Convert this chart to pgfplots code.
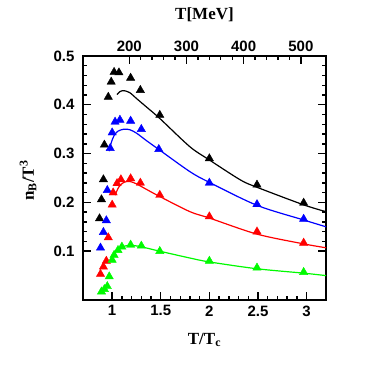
\documentclass[border=0pt]{standalone}
\usepackage{pgfplots}
\pgfplotsset{compat=1.18}
\usepackage{fontspec}
\setmainfont{Liberation Serif}
\setsansfont{Liberation Sans}
\definecolor{cblue}{RGB}{0,0,255}
\definecolor{cred}{RGB}{255,0,0}
\definecolor{cgreen}{RGB}{0,250,0}
\begin{document}
\begin{tikzpicture}
\useasboundingbox (-83pt,-82pt) rectangle (299pt,300pt);
\pgfplotsset{
  common/.style={
    scale only axis, width=243pt, height=244pt,
    at={(0,0)}, anchor=south west,
    ymin=0, ymax=0.5,
    tick align=inside,
    major tick length=8pt, minor tick length=4pt,
    axis line style={line width=1.5pt},
    every tick/.style={line width=1.4pt, black},
    /pgf/number format/assume math mode=true,
    ticklabel style={font=\sffamily\bfseries\fontsize{15}{15}\selectfont},
  }
}
\begin{axis}[common,
  xmin=0.7, xmax=3.2,
  xtick={1,1.5,2,2.5,3},
  xticklabels={1,1.5,2,2.5,3},
  minor x tick num=4,
  ytick={0.1,0.2,0.3,0.4,0.5},
  yticklabels={0.1,0.2,0.3,0.4,0.5},
  minor y tick num=4,
  xtick pos=left, ytick pos=both, yticklabel pos=left,
  xticklabel style={yshift=-2pt},
  yticklabel style={xshift=-5pt},
  xlabel={\bfseries T/T\textsubscript{c}},
  ylabel={\bfseries n\textsubscript{B}/T\textsuperscript{3}},
  xlabel style={at={(axis description cs:0.5,-0.164)}, anchor=center, font=\fontsize{17}{17}\selectfont},
  ylabel style={at={(axis description cs:-0.226,0.49)}, anchor=center, font=\fontsize{17}{17}\selectfont},
  clip=false,
]
% black
\addplot[black, line width=1.2pt, smooth] coordinates {
(1.05,0.421)(1.08,0.427)(1.12,0.429)(1.18,0.425)(1.25,0.413)(1.35,0.396)(1.49,0.372)(1.80,0.314)(2.00,0.287)(2.32,0.246)(2.49,0.231)(2.97,0.195)(3.20,0.181)};
\addplot[only marks, mark=triangle*, mark size=4.8pt, mark options={fill=black, draw=black}] coordinates {
(0.87,0.167)(0.89,0.206)(0.91,0.247)(0.92,0.318)(0.96,0.416)(0.99,0.447)(1.02,0.467)(1.07,0.466)(1.19,0.455)(1.29,0.430)(1.49,0.379)(2.00,0.290)(2.49,0.236)(2.97,0.199)};
% blue
\addplot[cblue, line width=1.2pt, smooth] coordinates {
(0.97,0.305)(0.99,0.322)(1.02,0.337)(1.06,0.346)(1.12,0.350)(1.18,0.349)(1.25,0.342)(1.35,0.327)(1.49,0.307)(1.80,0.263)(2.00,0.241)(2.49,0.194)(2.97,0.164)(3.20,0.150)};
\addplot[only marks, mark=triangle*, mark size=4.8pt, mark options={fill=cblue, draw=cblue}] coordinates {
(0.88,0.107)(0.91,0.139)(0.94,0.163)(0.95,0.225)(0.98,0.311)(1.00,0.343)(1.03,0.365)(1.08,0.369)(1.19,0.367)(1.30,0.350)(1.48,0.309)(2.00,0.240)(2.49,0.196)(2.97,0.166)};
% red
\addplot[cred, line width=1.2pt, smooth] coordinates {
(1.03,0.215)(1.07,0.232)(1.12,0.241)(1.18,0.243)(1.25,0.238)(1.35,0.227)(1.49,0.212)(1.80,0.181)(2.00,0.168)(2.49,0.135)(2.97,0.115)(3.20,0.107)};
\addplot[only marks, mark=triangle*, mark size=4.8pt, mark options={fill=cred, draw=cred}] coordinates {
(0.88,0.053)(0.91,0.068)(0.94,0.080)(0.96,0.128)(1.00,0.195)(1.01,0.220)(1.05,0.239)(1.09,0.247)(1.19,0.249)(1.29,0.240)(1.49,0.215)(2.00,0.171)(2.49,0.140)(2.97,0.117)};
% green
\addplot[cgreen, line width=1.2pt, smooth] coordinates {
(1.00,0.090)(1.04,0.100)(1.08,0.107)(1.14,0.111)(1.20,0.112)(1.30,0.109)(1.49,0.100)(1.80,0.086)(2.00,0.078)(2.49,0.064)(2.97,0.055)(3.20,0.050)};
\addplot[only marks, mark=triangle*, mark size=4.8pt, mark options={fill=cgreen, draw=cgreen}] coordinates {
(0.89,0.017)(0.92,0.022)(0.95,0.028)(0.97,0.048)(1.00,0.082)(1.02,0.092)(1.06,0.102)(1.10,0.109)(1.19,0.113)(1.30,0.111)(1.49,0.100)(2.00,0.080)(2.49,0.066)(2.97,0.057)};
\end{axis}
\begin{axis}[common,
  xmin=119, xmax=544,
  xtick={200,300,400,500},
  xticklabels={200,300,400,500},
  minor x tick num=4,
  hide y axis,
  xtick pos=right, xticklabel pos=right,
  xticklabel style={yshift=1pt},
  xlabel={\bfseries T[MeV]},
  xlabel style={at={(axis description cs:0.5,1.17)}, anchor=center, font=\fontsize{17}{17}\selectfont},
]
\end{axis}
\end{tikzpicture}
\end{document}
